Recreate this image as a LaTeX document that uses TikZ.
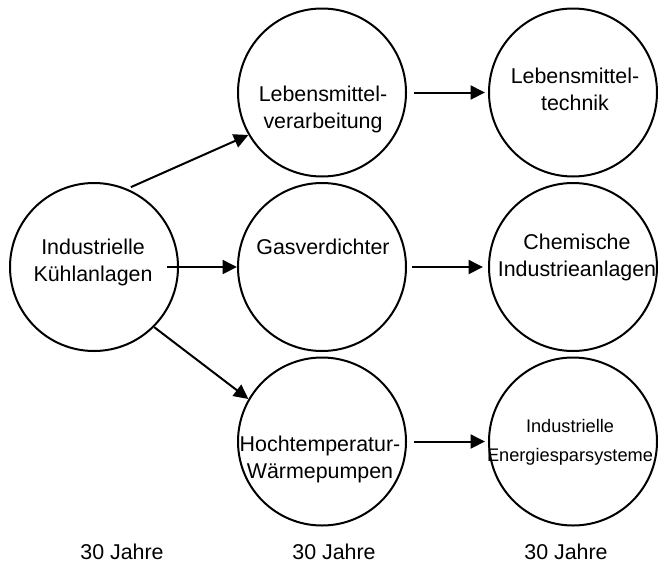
\documentclass[tikz,border=0pt]{standalone}
\usepackage{fontspec}
\setmainfont{Liberation Sans}
\usetikzlibrary{arrows.meta}
\begin{document}
\begin{tikzpicture}[x=1pt,y=-1pt,
	ring/.style={draw,circle,line width=2pt,minimum size=168pt,inner sep=0pt},
	lbl/.style={align=center,font=\fontsize{21.4}{27}\selectfont,inner sep=0pt},
	lblsmall/.style={align=center,font=\fontsize{18.2}{29}\selectfont,inner sep=0pt},
	pfeil/.style={line width=2pt,-{Triangle[length=14.5pt,width=14pt]}}]
		\useasboundingbox (0,0) rectangle (658,565);
		\node[ring] (kuehl) at (94,267) {};
		\node[ring] (verarb) at (322,92.5) {};
		\node[ring] (gas) at (322,267) {};
		\node[ring] (hochtemp) at (322,441.5) {};
		\node[ring] (technik) at (573,92.5) {};
		\node[ring] (chemie) at (573,267) {};
		\node[ring] (energie) at (573,441.5) {};
		\node[lbl] (kuehltxt) at (93,262.5) {Industrielle\\Kühlanlagen};
		\node[lbl] (verarbtxt) at (323,109) {Lebensmittel-\\verarbeitung};
		\node[lbl] (gastxt) at (323,247) {Gasverdichter};
		\node[lbl] (hochtemptxt) at (320,459) {Hochtemperatur-\\Wärmepumpen};
		\node[lbl] (techniktxt) at (575,89) {Lebensmittel-\\technik};
		\node[lbl] (chemietxt) at (577,257.5) {Chemische\\Industrieanlagen};
		\node[lblsmall] (energietxt) at (570,442.5) {Industrielle\\Energiesparsysteme};
		\node[lbl] (jahreA) at (122,552) {30 Jahre};
		\node[lbl] (jahreB) at (334,552) {30 Jahre};
		\node[lbl] (jahreC) at (566,552) {30 Jahre};
		\draw[pfeil,shorten <=4pt] (kuehl.67) -- (verarb.210);
		\draw[pfeil,shorten <=-12pt] (kuehl.east) -- (gas.west);
		\draw[pfeil] (kuehl.-45) -- (hochtemp.150);
		\draw[pfeil,shorten <=7pt,shorten >=3pt] (verarb.east) -- (technik.west);
		\draw[pfeil,shorten <=5pt,shorten >=5pt] (gas.east) -- (chemie.west);
		\draw[pfeil,shorten <=7pt,shorten >=3pt] (hochtemp.east) -- (energie.west);
\end{tikzpicture}
\end{document}
